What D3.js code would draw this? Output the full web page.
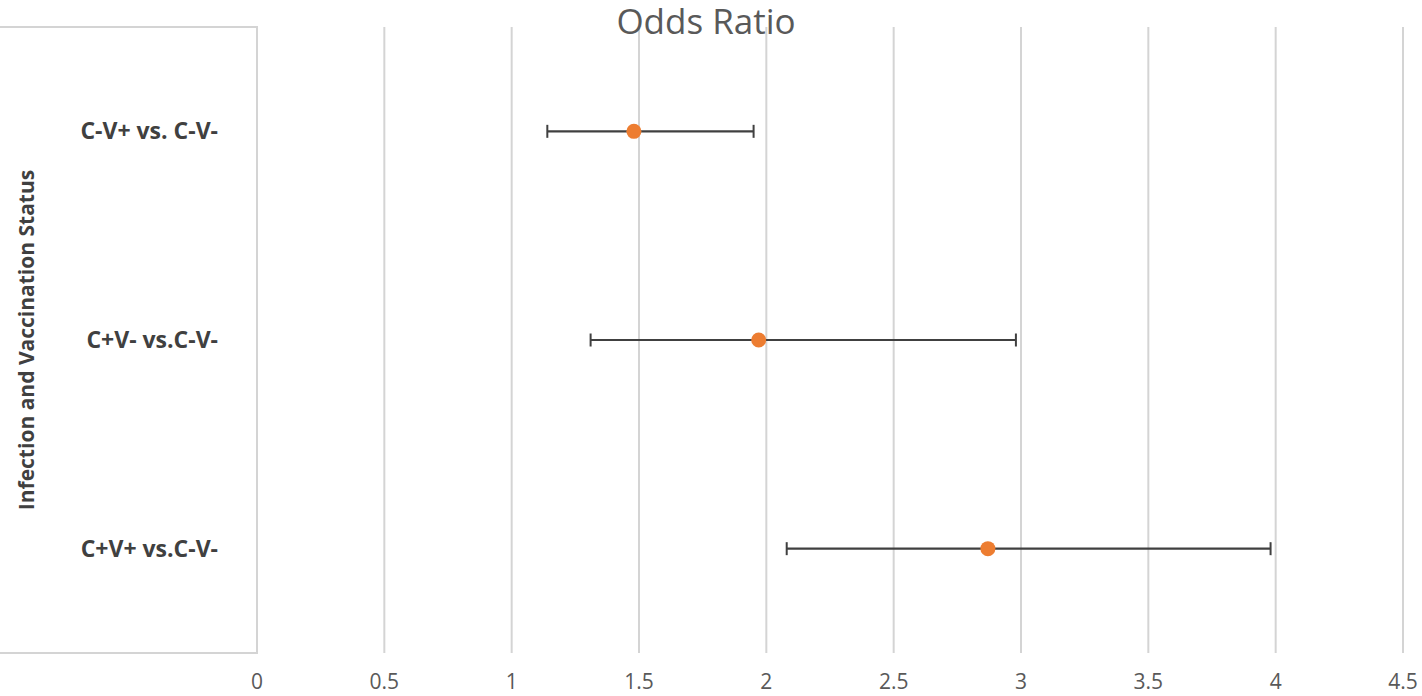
<!DOCTYPE html>
<html lang="en">
<head>
  <meta charset="UTF-8" />
  <title>Odds Ratio</title>
  <script src="https://cdn.jsdelivr.net/npm/d3@7"></script>
  <style>
    body { margin: 0; background: #fff; }
    text { font-family: "Open Sans", "Liberation Sans", sans-serif; }
  </style>
</head>
<body>
  <div id="chart"></div>
  <script>
    // data
    var groups = ["C-V+ vs. C-V-", "C+V- vs.C-V-", "C+V+ vs.C-V-"];
    var oddsRatio = [1.48, 1.97, 2.87];
    var lowerCI = [1.14, 1.31, 2.08];
    var upperCI = [1.95, 2.98, 3.98];
    var xTicks = [0, 0.5, 1, 1.5, 2, 2.5, 3, 3.5, 4, 4.5];

    var w = 1422;
    var h = 696;
    var plotTop = 27, plotBottom = 653, plotLeft = 257, plotRight = 1403;

    var svg = d3.select("#chart")
      .append("svg")
      .attr("width", w)
      .attr("height", h);

    var x = d3.scaleLinear().domain([0, 4.5]).range([plotLeft, plotRight]);
    var y = d3.scaleBand().domain(groups).range([plotTop, plotBottom]);

    // left box around category labels
    svg.append("path")
      .attr("d", "M-5," + plotTop + "H" + plotLeft + "V" + plotBottom + "H-5")
      .attr("fill", "none")
      .attr("stroke", "#d4d4d4")
      .attr("stroke-width", 2);

    // vertical gridlines
    svg.selectAll("line.grid")
      .data(xTicks)
      .enter()
      .append("line")
      .attr("class", "grid")
      .attr("x1", function(d) { return x(d); })
      .attr("x2", function(d) { return x(d); })
      .attr("y1", plotTop)
      .attr("y2", plotBottom)
      .attr("stroke", "#d4d4d4")
      .attr("stroke-width", 2);

    // x tick labels
    svg.selectAll("text.tick")
      .data(xTicks)
      .enter()
      .append("text")
      .attr("class", "tick")
      .attr("x", function(d) { return x(d); })
      .attr("y", 689)
      .attr("text-anchor", "middle")
      .attr("font-size", "21px")
      .attr("fill", "#595959")
      .text(function(d) { return d; });

    // title
    svg.append("text")
      .attr("x", 706)
      .attr("y", 34)
      .attr("text-anchor", "middle")
      .attr("font-size", "35px")
      .attr("fill", "#595959")
      .text("Odds Ratio");

    // category labels
    svg.selectAll("text.cat")
      .data(groups)
      .enter()
      .append("text")
      .attr("class", "cat")
      .attr("x", 218)
      .attr("y", function(d) { return y(d) + y.bandwidth() / 2; })
      .attr("dy", "0.35em")
      .attr("text-anchor", "end")
      .attr("font-size", "23px")
      .attr("font-weight", "bold")
      .attr("fill", "#404040")
      .text(function(d) { return d; });

    // y axis title
    svg.append("text")
      .attr("transform", "translate(27," + ((plotTop + plotBottom) / 2) + ") rotate(-90)")
      .attr("dy", "0.35em")
      .attr("text-anchor", "middle")
      .attr("font-size", "21px")
      .attr("font-weight", "bold")
      .attr("fill", "#404040")
      .text("Infection and Vaccination Status");

    // error bars
    var bars = svg.selectAll("g.bar")
      .data(groups)
      .enter()
      .append("g")
      .attr("class", "bar")
      .attr("transform", function(d) { return "translate(0," + (y(d) + y.bandwidth() / 2) + ")"; });

    bars.append("line")
      .attr("x1", function(d, i) { return x(lowerCI[i]); })
      .attr("x2", function(d, i) { return x(upperCI[i]); })
      .attr("stroke", "#404040")
      .attr("stroke-width", 2.2);

    bars.append("line")
      .attr("x1", function(d, i) { return x(lowerCI[i]); })
      .attr("x2", function(d, i) { return x(lowerCI[i]); })
      .attr("y1", -6.5).attr("y2", 6.5)
      .attr("stroke", "#404040")
      .attr("stroke-width", 2);

    bars.append("line")
      .attr("x1", function(d, i) { return x(upperCI[i]); })
      .attr("x2", function(d, i) { return x(upperCI[i]); })
      .attr("y1", -6.5).attr("y2", 6.5)
      .attr("stroke", "#404040")
      .attr("stroke-width", 2);

    bars.append("circle")
      .attr("cx", function(d, i) { return x(oddsRatio[i]); })
      .attr("r", 7.5)
      .attr("fill", "#ED7D31");
  </script>
</body>
</html>
